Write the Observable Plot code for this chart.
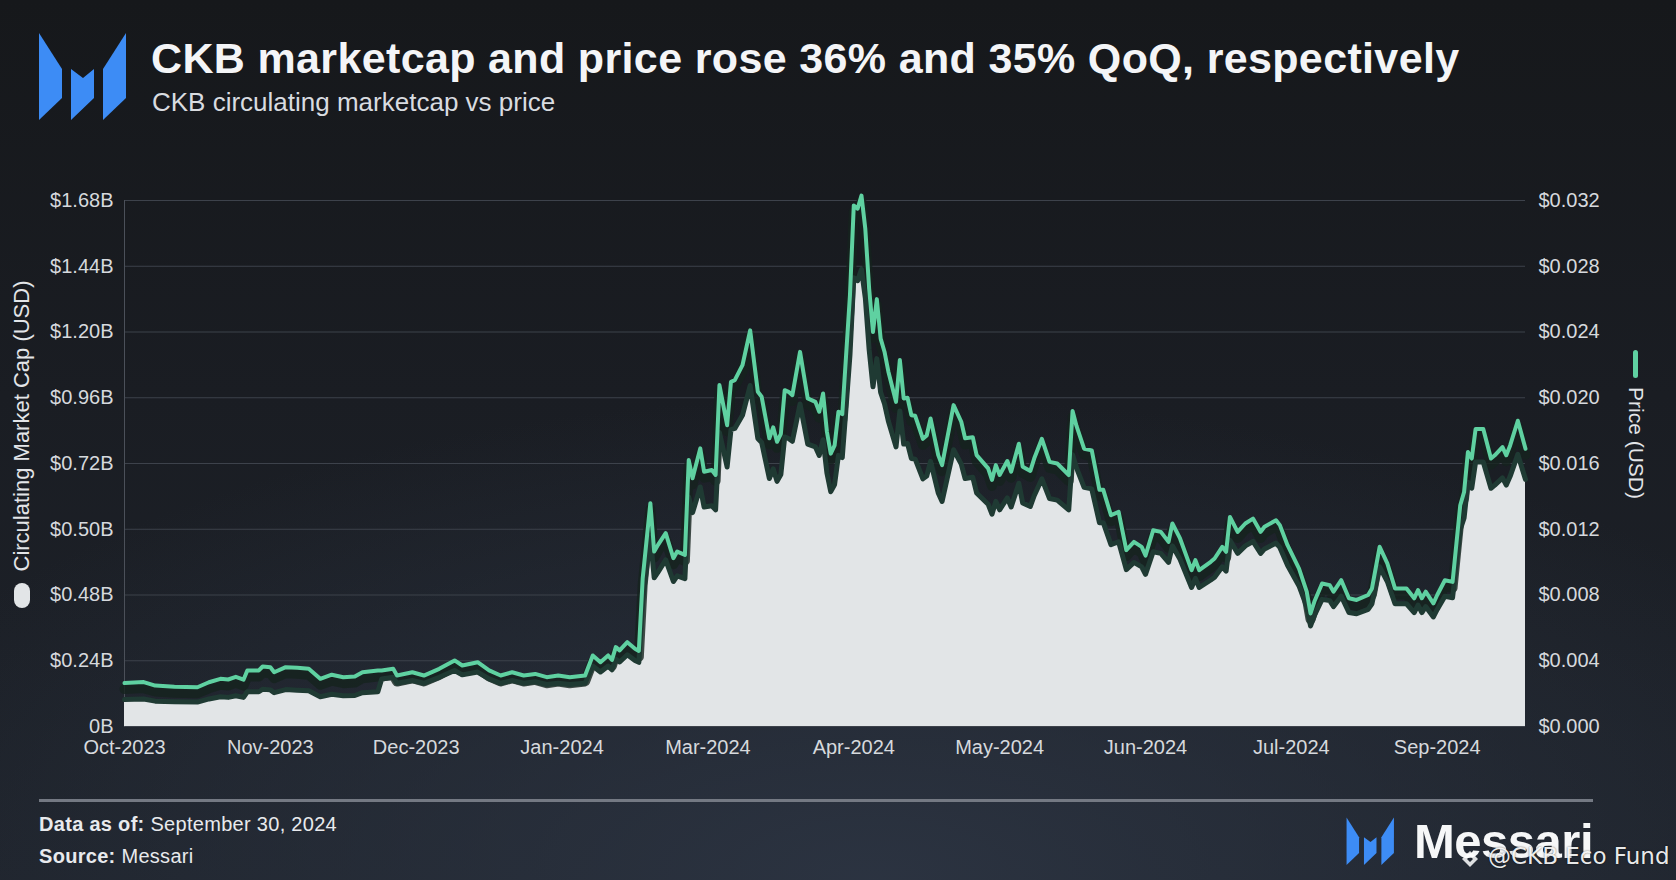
<!DOCTYPE html>
<html>
<head>
<meta charset="utf-8">
<script src="https://cdn.jsdelivr.net/npm/d3@7"></script>
<script src="https://cdn.jsdelivr.net/npm/@observablehq/plot@0.6"></script>
<style>
  html, body { margin:0; padding:0; }
  body {
    width:1676px; height:880px; overflow:hidden; position:relative;
    font-family:"Liberation Sans", Arial, Helvetica, sans-serif;
    background:
      radial-gradient(ellipse 65% 55% at 52% 100%, rgba(44,52,66,0.95) 0%, rgba(44,52,66,0) 100%),
      linear-gradient(180deg, #16181b 0%, #1a1d23 45%, #1e232b 100%);
    color:#f2f3f5;
  }
  .abs { position:absolute; white-space:nowrap; }
  #title { left:151px; top:37px; font-size:43px; line-height:43px; font-weight:700; letter-spacing:0.35px; color:#f4f5f7; }
  #subtitle { left:152px; top:89px; font-size:26px; line-height:26px; color:#d9dce0; }
  #chart { position:absolute; left:0; top:180px; }
  #ylab { left:22px; top:426px; transform:translate(-50%,-50%) rotate(-90deg); font-size:22px; color:#e3e5e8; }
  #ysw { left:14px; top:583px; width:16px; height:25px; border-radius:8px; background:#e2e5e7; }
  #plab { left:1636px; top:443px; transform:translate(-50%,-50%) rotate(90deg); font-size:21px; color:#e3e5e8; }
  #psw { left:1633px; top:350px; width:5px; height:28px; border-radius:3px; background:#5fd1a1; }
  #rule { left:39px; top:799px; width:1554px; height:3px; background:#747983; }
  #asof { left:39px; top:814px; font-size:20px; line-height:20px; letter-spacing:0.3px; color:#e8eaed; }
  #src { left:39px; top:846px; font-size:20px; line-height:20px; letter-spacing:0.3px; color:#e8eaed; }
  #brand { left:1414px; top:817px; font-size:49px; line-height:49px; font-weight:700; color:#f6f7f8; letter-spacing:-0.5px; }
  #wm { left:1488px; top:845px; font-family:"DejaVu Sans", sans-serif; font-size:23px; line-height:23px; color:rgba(255,255,255,0.92); text-shadow:0 0 2px rgba(0,0,0,0.6); }
</style>
</head>
<body>
<svg class="abs" style="left:38px;top:32px" width="90" height="90" viewBox="0 0 90 90">
  <polygon points="1,1 24,37 24,66 1,88" fill="#3d8cf5"/>
  <polygon points="33,37 45,46 56,37 56,66 33,88" fill="#3d8cf5"/>
  <polygon points="65,37 88,1 88,66 65,88" fill="#3d8cf5"/>
</svg>
<div id="title" class="abs">CKB marketcap and price rose 36% and 35% QoQ, respectively</div>
<div id="subtitle" class="abs">CKB circulating marketcap vs price</div>
<div id="chart"></div>
<div id="ylab" class="abs">Circulating Market Cap (USD)</div>
<div id="ysw" class="abs"></div>
<div id="psw" class="abs"></div>
<div id="plab" class="abs">Price (USD)</div>
<div id="rule" class="abs"></div>
<div id="asof" class="abs"><b>Data as of:</b> September 30, 2024</div>
<div id="src" class="abs"><b>Source:</b> Messari</div>
<svg class="abs" style="left:1345px;top:817px" width="51" height="49" viewBox="0 0 90 90">
  <polygon points="1,1 24,37 24,66 1,88" fill="#3d8cf5"/>
  <polygon points="33,37 45,46 56,37 56,66 33,88" fill="#3d8cf5"/>
  <polygon points="65,37 88,1 88,66 65,88" fill="#3d8cf5"/>
</svg>
<div id="brand" class="abs">Messari</div>
<svg class="abs" style="left:1460px;top:849px" width="20" height="20" viewBox="0 0 20 20">
  <path d="M10 2 L18 10 L10 18 L2 10 Z M10 7 L13 10 L10 13 L7 10 Z" fill="rgba(255,255,255,0.85)" fill-rule="evenodd"/>
</svg>
<div id="wm" class="abs">@CKB Eco Fund</div>

<script>
// ---- data ----
const dates = [
  "2023-10-01","2023-10-06","2023-10-09","2023-10-14","2023-10-20","2023-10-23","2023-10-26","2023-10-28","2023-10-30","2023-11-01","2023-11-02","2023-11-05","2023-11-06","2023-11-08","2023-11-09","2023-11-12","2023-11-15","2023-11-18","2023-11-21","2023-11-24","2023-11-27","2023-11-30","2023-12-02","2023-12-06",
  "2023-12-07","2023-12-10","2023-12-11","2023-12-15","2023-12-18","2023-12-22","2023-12-26","2023-12-28","2024-01-01","2024-01-04","2024-01-07","2024-01-10","2024-01-13","2024-01-16","2024-01-19","2024-01-22","2024-01-25","2024-01-29","2024-01-31","2024-02-02","2024-02-04","2024-02-05","2024-02-06","2024-02-07","2024-02-09","2024-02-11","2024-02-12","2024-02-13","2024-02-15","2024-02-16","2024-02-17",
  "2024-02-19","2024-02-21","2024-02-22","2024-02-24","2024-02-25","2024-02-26","2024-02-28","2024-02-29","2024-03-02","2024-03-03","2024-03-04","2024-03-06","2024-03-07","2024-03-08","2024-03-10","2024-03-12","2024-03-14","2024-03-15","2024-03-17","2024-03-18","2024-03-19","2024-03-20","2024-03-21","2024-03-22","2024-03-23","2024-03-25","2024-03-26","2024-03-27","2024-03-29","2024-03-30","2024-03-31","2024-04-01","2024-04-02","2024-04-03","2024-04-04","2024-04-05","2024-04-06","2024-04-07","2024-04-08","2024-04-09","2024-04-10","2024-04-11","2024-04-12","2024-04-13","2024-04-14","2024-04-15","2024-04-16","2024-04-17","2024-04-19","2024-04-20","2024-04-21","2024-04-22","2024-04-23","2024-04-24","2024-04-26","2024-04-27","2024-04-28","2024-04-30","2024-05-01","2024-05-04","2024-05-06","2024-05-07","2024-05-09","2024-05-10","2024-05-13","2024-05-14","2024-05-15","2024-05-16","2024-05-18","2024-05-19","2024-05-21","2024-05-22","2024-05-24","2024-05-25","2024-05-27","2024-05-29","2024-05-31","2024-06-03","2024-06-04","2024-06-05","2024-06-07","2024-06-09","2024-06-11","2024-06-12","2024-06-14","2024-06-16",
  "2024-06-18","2024-06-20","2024-06-22","2024-06-23","2024-06-25","2024-06-27","2024-06-29","2024-06-30","2024-07-02","2024-07-05","2024-07-06","2024-07-07","2024-07-10","2024-07-11","2024-07-13","2024-07-14","2024-07-15","2024-07-17","2024-07-19","2024-07-21","2024-07-23","2024-07-24","2024-07-27","2024-07-28","2024-07-30","2024-08-02","2024-08-04","2024-08-05","2024-08-06","2024-08-08","2024-08-10","2024-08-11","2024-08-13","2024-08-15","2024-08-17","2024-08-20","2024-08-21","2024-08-23","2024-08-25","2024-08-27","2024-08-30","2024-09-01","2024-09-02","2024-09-03","2024-09-04","2024-09-06","2024-09-07","2024-09-09","2024-09-11","2024-09-13","2024-09-14","2024-09-15","2024-09-16","2024-09-17","2024-09-19","2024-09-21","2024-09-22","2024-09-24","2024-09-25","2024-09-26","2024-09-28","2024-09-30"
];

// CKB price, USD
const price = [
  0.00264,0.00270,0.00249,0.00242,0.00239,0.00269,0.00290,0.00286,0.00302,0.00285,0.00341,0.00341,0.00365,0.00360,0.00330,0.00361,0.00357,0.00351,0.00290,0.00315,0.00300,0.00304,0.00330,0.00341,
  0.00341,0.00351,0.00310,0.00330,0.00310,0.00351,0.00402,0.00371,0.00391,0.00341,0.00310,0.00330,0.00310,0.00320,0.00300,0.00310,0.00300,0.00310,0.00432,0.00391,0.00432,0.00405,0.00483,0.00463,0.00513,0.00473,0.00460,0.00900,0.01358,0.01064,0.01105,
  0.01176,0.01024,0.01064,0.01044,0.01621,0.01510,0.01692,0.01550,0.01560,0.01530,0.02077,0.01833,0.02097,0.02107,0.02198,0.02410,0.02036,0.02006,0.01753,0.01820,0.01732,0.01780,0.02046,0.02036,0.02016,0.02279,0.02137,0.01996,0.01975,0.01915,0.02026,0.01793,0.01660,0.01710,0.01915,0.01900,0.02259,0.02623,0.03170,0.03150,0.03230,0.03028,0.02664,0.02400,0.02600,0.02360,0.02280,0.02160,0.01975,0.02230,0.01996,0.02000,0.01894,0.01890,0.01750,0.01770,0.01874,0.01651,0.01590,0.01955,0.01854,0.01753,0.01760,0.01651,0.01570,0.01500,0.01590,0.01530,0.01615,0.01550,0.01720,0.01580,0.01555,0.01630,0.01750,0.01610,0.01600,0.01530,0.01920,0.01830,0.01690,0.01680,0.01440,0.01440,0.01285,0.01306,
  0.01073,0.01123,0.01093,0.01040,0.01194,0.01184,0.01123,0.01235,0.01144,0.00951,0.01012,0.00951,0.01002,0.01022,0.01093,0.01063,0.01275,0.01184,0.01235,0.01265,0.01184,0.01215,0.01255,0.01225,0.01103,0.00961,0.00820,0.00688,0.00760,0.00870,0.00860,0.00820,0.00890,0.00780,0.00770,0.00800,0.00840,0.01093,0.00992,0.00840,0.00840,0.00780,0.00830,0.00780,0.00820,0.00749,0.00800,0.00890,0.00880,0.01346,0.01427,0.01670,0.01630,0.01810,0.01810,0.01630,0.01650,0.01700,0.01650,0.01710,0.01860,0.01690
];

// circulating market cap, billions USD (left axis units)
const marketcap = [
  0.086,0.088,0.081,0.079,0.078,0.088,0.095,0.093,0.098,0.093,0.111,0.111,0.119,0.117,0.108,0.118,0.116,0.114,0.095,0.103,0.098,0.099,0.108,0.111,
  0.152,0.157,0.138,0.147,0.138,0.157,0.179,0.165,0.174,0.152,0.138,0.147,0.138,0.143,0.134,0.138,0.134,0.138,0.193,0.174,0.193,0.181,0.215,0.206,0.229,0.211,0.205,0.401,0.606,0.475,0.493,
  0.532,0.463,0.481,0.472,0.733,0.683,0.765,0.701,0.705,0.692,0.939,0.829,0.948,0.952,0.994,1.089,0.920,0.907,0.792,0.823,0.783,0.805,0.925,0.920,0.911,1.030,0.966,0.902,0.893,0.866,0.916,0.810,0.750,0.773,0.866,0.859,1.021,1.186,1.433,1.424,1.460,1.369,1.204,1.085,1.175,1.067,1.031,0.976,0.893,1.008,0.902,0.904,0.856,0.854,0.791,0.800,0.847,0.746,0.719,0.884,0.838,0.792,0.796,0.746,0.710,0.678,0.719,0.692,0.730,0.701,0.777,0.714,0.703,0.737,0.791,0.728,0.723,0.692,0.868,0.827,0.764,0.759,0.651,0.651,0.581,0.590,
  0.501,0.524,0.510,0.486,0.558,0.553,0.524,0.577,0.534,0.444,0.473,0.444,0.468,0.477,0.510,0.496,0.595,0.553,0.577,0.591,0.553,0.567,0.586,0.572,0.515,0.449,0.383,0.321,0.355,0.406,0.402,0.383,0.416,0.364,0.360,0.374,0.392,0.510,0.463,0.392,0.392,0.364,0.388,0.364,0.383,0.350,0.374,0.416,0.411,0.629,0.666,0.780,0.761,0.845,0.845,0.761,0.771,0.794,0.771,0.799,0.869,0.789
];

// axis ticks as printed on the chart
const leftLabels = ["0B","$0.24B","$0.48B","$0.50B","$0.72B","$0.96B","$1.20B","$1.44B","$1.68B"];
const leftMax = 1.68;
const priceTicks = [0,0.004,0.008,0.012,0.016,0.020,0.024,0.028,0.032];
const priceMax = 0.032;
const xTicks = ["2023-10-01","2023-11-08","2023-12-16","2024-01-23","2024-03-01","2024-04-08","2024-05-16","2024-06-23","2024-07-31","2024-09-07"];
const xDomain = ["2023-10-01","2024-09-30"];

// ---- build ----
const K = leftMax / priceMax; // maps price onto the shared vertical scale
const rows = dates.map((d, i) => ({date: new Date(d), price: price[i], mc: marketcap[i]}));
const leftTickValues = leftLabels.map((_, i) => i * leftMax / (leftLabels.length - 1));
const step = leftMax / (leftLabels.length - 1);

const chart = Plot.plot({
  width: 1676,
  height: 586,
  marginLeft: 124,
  marginRight: 151,
  marginTop: 20,
  marginBottom: 40,
  style: {background: "transparent", color: "#d6d9dd", fontFamily: "'Liberation Sans', Arial, sans-serif", fontSize: "20px", overflow: "visible"},
  x: {type: "utc", domain: xDomain.map(d => new Date(d)), label: null},
  y: {domain: [0, leftMax], label: null},
  marks: [
    Plot.gridY(leftTickValues, {stroke: "#3d424b", strokeOpacity: 1, strokeWidth: 1}),
    Plot.frame({anchor: "left", stroke: "#4b5059", strokeWidth: 1}),
    Plot.areaY(rows, {x: "date", y: "mc", fill: "#e2e5e7"}),
    Plot.lineY(rows, {x: "date", y: d => d.price * K, stroke: "#15231e", strokeWidth: 10, strokeOpacity: 0.8, dy: 6, strokeLinejoin: "round"}),
    Plot.lineY(rows, {x: "date", y: "mc", stroke: "#1f3a33", strokeWidth: 5, strokeLinejoin: "round"}),
    Plot.lineY(rows, {x: "date", y: d => d.price * K, stroke: "#5fd1a1", strokeWidth: 4, strokeLinejoin: "round"}),
    Plot.axisX(xTicks.map(d => new Date(d)), {tickSize: 0, tickPadding: 13, fontSize: 20, tickFormat: d3.utcFormat("%b-%Y"), label: null}),
    Plot.axisY(leftTickValues, {anchor: "left", tickSize: 0, tickPadding: 11, fontSize: 20, tickFormat: d => leftLabels[Math.round(d / step)], label: null}),
    Plot.axisY(priceTicks.map(p => p * K), {anchor: "right", tickSize: 0, tickPadding: 13, fontSize: 20, tickFormat: d => d3.format("$.3f")(d / K), label: null})
  ]
});
document.getElementById("chart").appendChild(chart);
</script>
</body>
</html>
